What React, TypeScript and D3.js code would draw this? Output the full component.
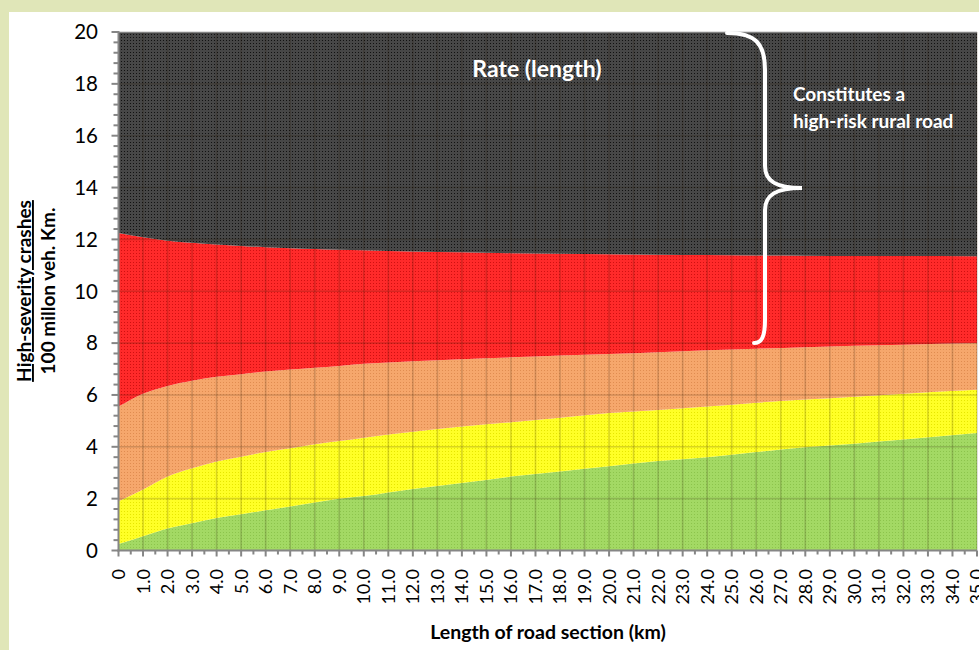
import React from "react";
import * as d3 from "d3";

// Length of road section (km)
const XS = [0, 1, 2, 3, 4, 5, 6, 7, 8, 9, 10, 12, 14, 16, 18, 20, 22, 24, 26, 28, 30, 32, 35];
// Upper boundary of each band (crashes per 100 million veh. km)
const GREEN = [0.25, 0.55, 0.85, 1.05, 1.25, 1.4, 1.55, 1.7, 1.85, 2.0, 2.1, 2.37, 2.6, 2.85, 3.05, 3.25, 3.45, 3.6, 3.8, 3.98, 4.12, 4.28, 4.53];
const YELLOW = [1.9, 2.35, 2.85, 3.17, 3.43, 3.62, 3.8, 3.94, 4.1, 4.22, 4.35, 4.58, 4.78, 4.95, 5.12, 5.3, 5.42, 5.55, 5.7, 5.82, 5.93, 6.05, 6.2];
const ORANGE = [5.55, 6.05, 6.35, 6.55, 6.7, 6.8, 6.9, 6.98, 7.05, 7.12, 7.2, 7.3, 7.38, 7.45, 7.52, 7.58, 7.65, 7.72, 7.78, 7.84, 7.9, 7.94, 8.0];
const RED = [12.25, 12.08, 11.95, 11.87, 11.8, 11.75, 11.7, 11.66, 11.63, 11.6, 11.58, 11.53, 11.5, 11.47, 11.45, 11.43, 11.41, 11.4, 11.38, 11.37, 11.36, 11.36, 11.35];
const TOP = XS.map(() => 20);
const BOTTOM = XS.map(() => 0);

const Y_TICKS = [0, 2, 4, 6, 8, 10, 12, 14, 16, 18, 20];
const X_TICKS = d3.range(0, 36);
const X_TICK_LABELS = X_TICKS.map((v) => (v === 0 ? "0" : v.toFixed(1)));

const BANDS = [
  { id: "green", lo: BOTTOM, hi: GREEN, base: "#a3d964", dot: "#8cc44c" },
  { id: "yellow", lo: GREEN, hi: YELLOW, base: "#ffff26", dot: "#e6e600" },
  { id: "orange", lo: YELLOW, hi: ORANGE, base: "#f6a76c", dot: "#e08c50" },
  { id: "red", lo: ORANGE, hi: RED, base: "#ff2a2a", dot: "#d01010" },
  { id: "dark", lo: RED, hi: TOP, base: "#474747", dot: "#111111" },
];

const W = 979;
const H = 650;
const X0 = 118.5;
const X1 = 977;
const Y0 = 550.5;
const Y1 = 32;
const FONT = "Lato, 'Open Sans', sans-serif";

export default function App() {
  const x = d3.scaleLinear().domain([0, 35]).range([X0, X1]);
  const y = d3.scaleLinear().domain([0, 20]).range([Y0, Y1]);

  const areaFor = (lo: number[], hi: number[]) =>
    d3
      .area<number>()
      .x((_, i) => x(XS[i]))
      .y0((_, i) => y(lo[i]))
      .y1((_, i) => y(hi[i]))
      .curve(d3.curveMonotoneX)(XS) as string;

  const yMinor = d3.range(0, 20.001, 0.4);
  const xMinor = d3.range(0, 35.001, 0.5);

  return (
    <svg width={W} height={H} style={{ position: "absolute", left: 0, top: 0 }} fontFamily={FONT}>
      <defs>
        {BANDS.map((b) => (
          <pattern key={b.id} id={`pat-${b.id}`} width={3} height={3} patternUnits="userSpaceOnUse">
            <rect width={3} height={3} fill={b.base} />
            <rect x={1} y={1} width={1} height={1} fill={b.dot} />
          </pattern>
        ))}
      </defs>
      <rect width={W} height={H} fill="#e0e6b8" />
      <rect x={9} y={12} width={W - 9} height={H - 12} fill="#ffffff" />

      {BANDS.map((b) => (
        <path key={b.id} d={areaFor(b.lo, b.hi)} fill={`url(#pat-${b.id})`} />
      ))}

      {/* gridlines */}
      <g stroke="rgba(40,20,0,0.18)" strokeWidth={1.6}>
        {X_TICKS.filter((v) => v > 0).map((v) => (
          <line key={`gx${v}`} x1={x(v)} x2={x(v)} y1={Y1} y2={Y0} />
        ))}
        {Y_TICKS.filter((v) => v > 0 && v < 20).map((v) => (
          <line key={`gy${v}`} x1={X0} x2={X1} y1={y(v)} y2={y(v)} />
        ))}
      </g>
      <line x1={X0} x2={X1} y1={Y1} y2={Y1} stroke="#bdbdbd" strokeWidth={1} />

      {/* axes */}
      <g stroke="#868686" strokeWidth={2}>
        <line x1={X0} x2={X0} y1={Y1 - 1} y2={Y0 + 1} />
        <line x1={X0 - 1} x2={X1} y1={Y0} y2={Y0} />
        {yMinor.map((v, i) => (
          <line key={`yt${i}`} x1={X0 - (i % 5 === 0 ? 7 : 5)} x2={X0} y1={y(v)} y2={y(v)} />
        ))}
        {xMinor.map((v, i) => (
          <line key={`xt${i}`} x1={x(v)} x2={x(v)} y1={Y0} y2={Y0 + (i % 2 === 0 ? 6 : 4)} />
        ))}
      </g>

      {Y_TICKS.map((v) => (
        <text key={`yl${v}`} x={98} y={y(v)} dy="0.36em" textAnchor="end" fontSize={20.5} fill="#000">
          {v}
        </text>
      ))}
      {X_TICKS.map((v, i) => (
        <text
          key={`xl${v}`}
          transform={`translate(${x(v)},569) rotate(-90)`}
          dy="0.36em"
          textAnchor="end"
          fontSize={18}
          fill="#000"
        >
          {X_TICK_LABELS[i]}
        </text>
      ))}

      {/* axis titles */}
      <text x={548} y={639} textAnchor="middle" fontSize={19.5} fontWeight="bold" fill="#000">
        Length of road section (km)
      </text>
      <g transform="translate(31,291) rotate(-90)">
        <text x={0} y={0} textAnchor="middle" fontSize={19} fontWeight="bold" fill="#000" textDecoration="underline">
          High-severity crashes
        </text>
        <text x={0} y={24} textAnchor="middle" fontSize={19} fontWeight="bold" fill="#000">
          100 millon veh. Km.
        </text>
      </g>

      {/* annotations */}
      <text x={537} y={77} textAnchor="middle" fontSize={23} fontWeight="bold" fill="#ffffff">
        Rate (length)
      </text>
      <text x={793} y={101} fontSize={19} fontWeight="bold" fill="#ffffff">
        Constitutes a
      </text>
      <text x={793} y={128} fontSize={19} fontWeight="bold" fill="#ffffff">
        high-risk rural road
      </text>
      <path
        d="M727,33 C756,33 765,44 765,70 L765,166 C765,181 776,188 802,188 C776,188 765,195 765,210 L765,320 C765,336 762,343 754,343"
        fill="none"
        stroke="#ffffff"
        strokeWidth={4}
        strokeLinecap="round"
      />
    </svg>
  );
}
